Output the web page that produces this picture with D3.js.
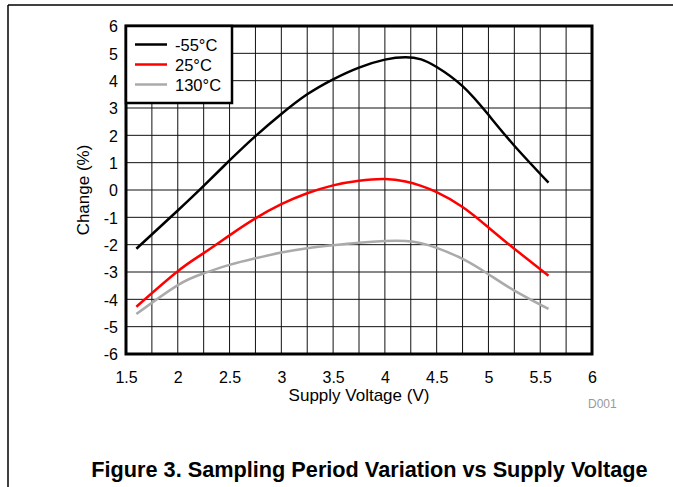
<!DOCTYPE html>
<html>
<head>
<meta charset="utf-8">
<script src="https://cdn.jsdelivr.net/npm/d3@7"></script>
<style>
  html, body { margin: 0; padding: 0; background: #fff; }
  svg { display: block; font-family: "Liberation Sans", Arial, sans-serif; }
</style>
</head>
<body>
<svg id="chart" width="673" height="487"></svg>
<script>
// ---- data ----
const voltage = [1.6, 2.0, 2.25, 2.5, 2.75, 3.0, 3.25, 3.5, 3.75, 4.0, 4.2, 4.35, 4.5, 4.75, 5.0, 5.25, 5.58];
const minus55 = [-2.15, -0.75, 0.15, 1.08, 1.97, 2.78, 3.5, 4.05, 4.48, 4.77, 4.86, 4.78, 4.5, 3.8, 2.75, 1.62, 0.27];
const plus25  = [-4.27, -2.97, -2.31, -1.66, -1.04, -0.52, -0.12, 0.17, 0.34, 0.40, 0.31, 0.15, -0.08, -0.62, -1.37, -2.15, -3.14];
const plus130 = [-4.54, -3.48, -3.05, -2.74, -2.5, -2.29, -2.13, -2.02, -1.93, -1.87, -1.87, -1.95, -2.12, -2.52, -3.08, -3.68, -4.35];
const seriesNames = ["-55°C", "25°C", "130°C"];
const seriesColors = ["#000000", "#ff0000", "#aaaaaa"];
const xTicks = [1.5, 2, 2.5, 3, 3.5, 4, 4.5, 5, 5.5, 6];
const xGrid = d3.range(1.5, 6.001, 0.25);
const yTicks = [-6, -5, -4, -3, -2, -1, 0, 1, 2, 3, 4, 5, 6];

const series = [minus55, plus25, plus130];

const svg = d3.select("#chart");

// outer frame
svg.append("line").attr("x1", 8).attr("x2", 673).attr("y1", 5).attr("y2", 5)
  .attr("stroke", "#000").attr("stroke-width", 1.5);
svg.append("line").attr("x1", 8).attr("x2", 8).attr("y1", 5).attr("y2", 487)
  .attr("stroke", "#000").attr("stroke-width", 1.5);

const x = d3.scaleLinear().domain([1.5, 6]).range([126, 592]);
const y = d3.scaleLinear().domain([-6, 6]).range([354, 26]);

// grid
const grid = svg.append("g");
grid.selectAll(".vg").data(xGrid).join("line")
  .attr("x1", d => x(d)).attr("x2", d => x(d))
  .attr("y1", y(6)).attr("y2", y(-6))
  .attr("stroke", "#111").attr("stroke-width", 1);
grid.selectAll(".hg").data(yTicks).join("line")
  .attr("x1", x(1.5)).attr("x2", x(6))
  .attr("y1", d => y(d)).attr("y2", d => y(d))
  .attr("stroke", "#111").attr("stroke-width", 1);

const fmt = d => String(d).replace("\u2212", "-");

// axes tick labels
const xAxis = d3.axisBottom(x).tickValues(xTicks).tickSize(0).tickPadding(0).tickFormat(fmt);
const gx = svg.append("g").attr("transform", `translate(0,${y(-6)})`).call(xAxis);
gx.select(".domain").remove();
gx.selectAll("text").attr("font-size", 16).attr("font-family", "Liberation Sans, Arial, sans-serif")
  .attr("fill", "#000").attr("dy", null).attr("y", 29);

const yAxis = d3.axisLeft(y).tickValues(yTicks).tickSize(0).tickPadding(8).tickFormat(fmt);
const gy = svg.append("g").attr("transform", `translate(${x(1.5)},0)`).call(yAxis);
gy.select(".domain").remove();
gy.selectAll("text").attr("font-size", 16).attr("font-family", "Liberation Sans, Arial, sans-serif")
  .attr("fill", "#000").attr("dy", "0.36em");

// lines
const line = d3.line()
  .x((d, i) => x(voltage[i]))
  .y(d => y(d))
  .curve(d3.curveNatural);

[2, 1, 0].forEach(k => {
  svg.append("path").datum(series[k])
    .attr("d", line)
    .attr("fill", "none")
    .attr("stroke", seriesColors[k])
    .attr("stroke-width", 2.5);
});

// plot border
svg.append("rect")
  .attr("x", x(1.5)).attr("y", y(6))
  .attr("width", x(6) - x(1.5)).attr("height", y(-6) - y(6))
  .attr("fill", "none").attr("stroke", "#000").attr("stroke-width", 3);

// legend
const lg = svg.append("g");
lg.append("rect").attr("x", x(1.5)).attr("y", y(6))
  .attr("width", 106).attr("height", 77)
  .attr("fill", "#fff").attr("stroke", "#000").attr("stroke-width", 2.5);
seriesNames.forEach((name, i) => {
  const ly = 44.5 + i * 20;
  lg.append("line").attr("x1", 135).attr("x2", 167).attr("y1", ly).attr("y2", ly)
    .attr("stroke", seriesColors[i]).attr("stroke-width", 2.5);
  lg.append("text").attr("x", 175).attr("y", ly + 6.5)
    .attr("font-size", 16.5).attr("fill", "#000").text(name);
});

// axis titles
svg.append("text").attr("x", 359).attr("y", 401)
  .attr("text-anchor", "middle").attr("font-size", 17).attr("fill", "#000")
  .text("Supply Voltage (V)");
svg.append("text")
  .attr("transform", `translate(89,${(y(-6) + y(6)) / 2}) rotate(-90)`)
  .attr("text-anchor", "middle").attr("font-size", 17).attr("fill", "#000")
  .text("Change (%)");

svg.append("text").attr("x", 588).attr("y", 408)
  .attr("font-size", 12).attr("fill", "#999").text("D001");

svg.append("text").attr("x", 369.5).attr("y", 477)
  .attr("text-anchor", "middle").attr("font-size", 21.7).attr("font-weight", "bold")
  .attr("fill", "#000")
  .text("Figure 3. Sampling Period Variation vs Supply Voltage");
</script>
</body>
</html>
